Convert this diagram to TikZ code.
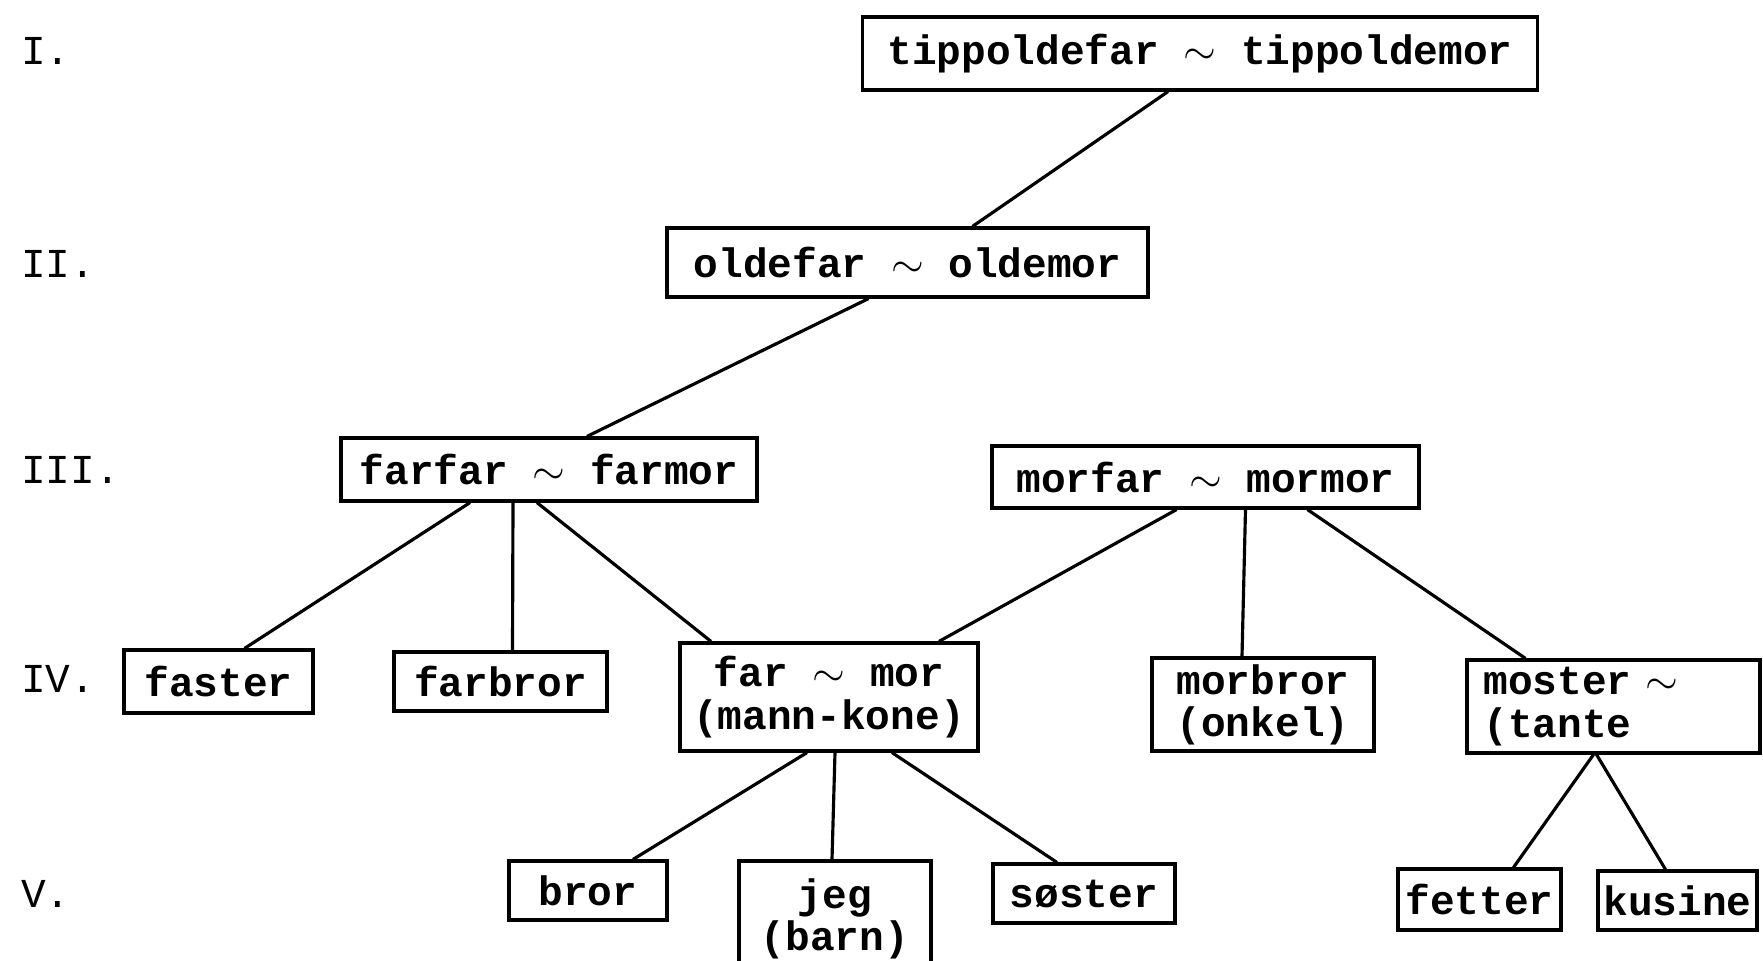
\documentclass[tikz,border=0pt]{standalone}
\usepackage{fontspec}
\setmonofont{Liberation Mono}

\begin{document}
\begin{tikzpicture}[font=\ttfamily\bfseries\fontsize{11.7}{12}\selectfont,line width=0.9pt,
  rel/.style={draw,inner sep=1pt,align=center},
  lvl/.style={anchor=west,font=\ttfamily\mdseries\fontsize{11.7}{12}\selectfont}]
  \useasboundingbox (0,0) rectangle (17.63,-9.61);
  % generations
  \node[lvl] (g1) at (0.08,-0.51) {I.};
  \node[lvl] (g2) at (0.08,-2.64) {II.};
  \node[lvl] (g3) at (0.08,-4.70) {III.};
  \node[lvl] (g4) at (0.08,-6.79) {IV.};
  \node[lvl] (g5) at (0.08,-8.94) {V.};
  % boxes
  \node[rel,minimum width=67.5mm,minimum height=7.3mm] (tp) at (12.0,-0.535) {tippoldefar $\sim$ tippoldemor};
  \node[rel,minimum width=48.1mm,minimum height=6.9mm] (od) at (9.075,-2.625) {oldefar $\sim$ oldemor};
  \node[rel,minimum width=41.6mm,minimum height=6.3mm] (ff) at (5.49,-4.695) {farfar $\sim$ farmor};
  \node[rel,minimum width=42.7mm,minimum height=6.2mm] (mf) at (12.055,-4.77) {morfar $\sim$ mormor};
  \node[rel,minimum width=18.9mm,minimum height=6.3mm] (fa) at (2.185,-6.815) {faster};
  \node[rel,minimum width=21.3mm,minimum height=5.9mm] (fb) at (5.005,-6.815) {farbror};
  \node[rel,minimum width=29.8mm,minimum height=10.8mm] (fm) at (8.29,-6.97) {far $\sim$ mor\\(mann-kone)};
  \node[rel,minimum width=22.2mm,minimum height=9.3mm] (mb) at (12.63,-7.045) {morbror\\(onkel)};
  \node[rel,text width=26mm,inner xsep=1.65mm,align=left,minimum height=9.3mm] (ms) at (16.135,-7.065) {moster $\sim$\\(tante};
  \node[rel,minimum width=15.8mm,minimum height=5.9mm] (br) at (5.88,-8.905) {bror};
  \node[rel,minimum width=19.2mm,minimum height=11.5mm] (jg) at (8.35,-9.185) {jeg\\(barn)};
  \node[rel,minimum width=18.2mm,minimum height=5.9mm] (ss) at (10.84,-8.935) {søster};
  \node[rel,minimum width=16.3mm,minimum height=6.1mm] (ft) at (14.795,-8.995) {fetter};
  \node[rel,minimum width=15.9mm,minimum height=5.9mm] (ku) at (16.775,-9.005) {kusine};
  % lines of descent
  \draw ([xshift=-3.2mm]tp.south) -- ([xshift=6.5mm]od.north);
  \draw ([xshift=-3.9mm]od.south) -- ([xshift=3.8mm]ff.north);
  \draw ([xshift=-7.9mm]ff.south) -- ([xshift=2.6mm]fa.north);
  \draw ([xshift=-3.6mm]ff.south) -- ([xshift=1.2mm]fb.north);
  \draw ([xshift=-1.2mm]ff.south) -- ([xshift=-11.8mm]fm.north);
  \draw ([xshift=-2.9mm]mf.south) -- ([xshift=11mm]fm.north);
  \draw ([xshift=4mm]mf.south) -- ([xshift=-2.1mm]mb.north);
  \draw ([xshift=10.2mm]mf.south) -- ([xshift=-8.8mm]ms.north);
  \draw ([xshift=-2.2mm]fm.south) -- ([xshift=4.5mm]br.north);
  \draw ([xshift=0.6mm]fm.south) -- ([xshift=-0.3mm]jg.north);
  \draw ([xshift=6.3mm]fm.south) -- ([xshift=-2.7mm]ss.north);
  \draw ([xshift=-2mm]ms.south) -- ([xshift=3.4mm]ft.north);
  \draw ([xshift=-1.7mm]ms.south) -- ([xshift=-1.2mm]ku.north);
\end{tikzpicture}
\end{document}
